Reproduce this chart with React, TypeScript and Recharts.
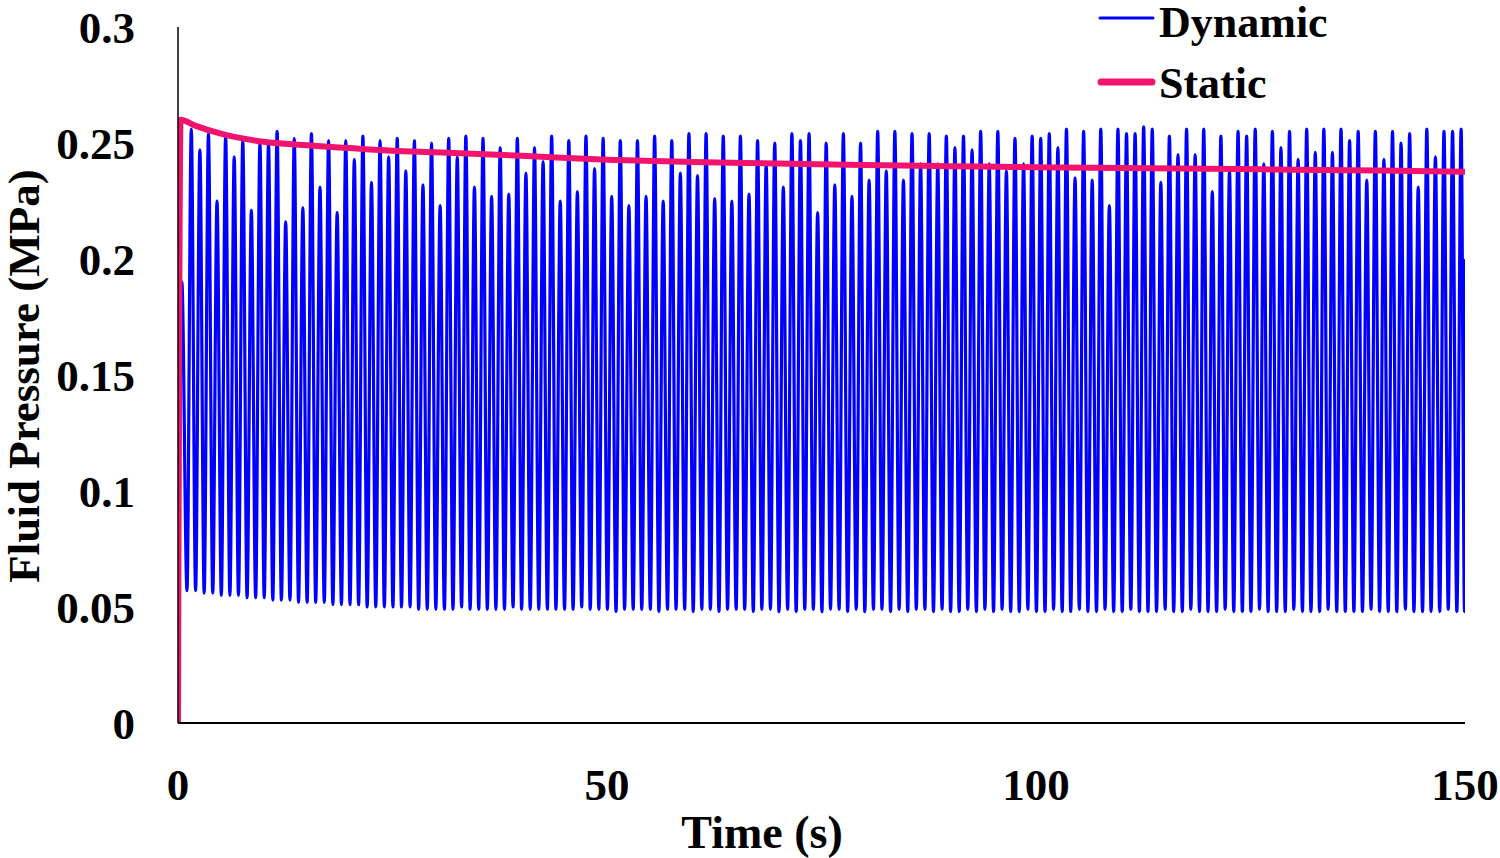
import React from "react";
import { LineChart, Line, XAxis, YAxis } from "recharts";

const fontFamily = '"Liberation Serif", "Times New Roman", serif';

// dynamic run: one peak per second, first peak at 1.55 s
const firstPeak = 1.55;
const period = 1;

const startTimes = [0, 0.45];
const startValues = [0, 0.19];

const peaks = [
  0.256, 0.247, 0.254, 0.225, 0.253, 0.244, 0.251, 0.221, 0.25, 0.25,
  0.255, 0.216, 0.252, 0.222, 0.254, 0.231, 0.251, 0.22, 0.251, 0.243,
  0.253, 0.233, 0.251, 0.244,
  0.252, 0.238, 0.251, 0.232, 0.25, 0.223, 0.252, 0.244, 0.253, 0.231,
  0.252, 0.227, 0.248, 0.228, 0.252, 0.237, 0.248, 0.242, 0.253, 0.225,
  0.251, 0.229, 0.253, 0.239, 0.252,
  0.227, 0.251, 0.223, 0.251, 0.227, 0.253, 0.225, 0.251, 0.237, 0.254,
  0.236, 0.254, 0.226, 0.253, 0.225, 0.253, 0.228, 0.251, 0.241, 0.25,
  0.231, 0.254, 0.251, 0.254, 0.22,
  0.25, 0.232, 0.254, 0.227, 0.25, 0.234, 0.255, 0.238, 0.255, 0.234,
  0.254, 0.241, 0.254, 0.241, 0.253, 0.248, 0.253, 0.247, 0.255, 0.241,
  0.255, 0.238, 0.252, 0.241, 0.253,
  0.252, 0.254, 0.248, 0.256, 0.235, 0.255, 0.234, 0.256, 0.223, 0.256,
  0.254, 0.254, 0.257, 0.256, 0.233, 0.253, 0.245, 0.256, 0.245, 0.256,
  0.229, 0.253, 0.238, 0.255, 0.253,
  0.256, 0.241, 0.255, 0.248, 0.255, 0.243, 0.256, 0.246, 0.256, 0.246,
  0.256, 0.251, 0.255, 0.234, 0.255, 0.243, 0.255, 0.25, 0.254, 0.231,
  0.256, 0.244, 0.255, 0.255, 0.256,
];

const troughs = [
  0.057, 0.057, 0.056, 0.056, 0.055, 0.055, 0.055, 0.054, 0.054, 0.054,
  0.053, 0.053, 0.053, 0.052, 0.052, 0.052, 0.052, 0.051, 0.051, 0.051,
  0.051, 0.05, 0.05, 0.05, 0.05, 0.05, 0.05, 0.049, 0.049, 0.049,
  0.049, 0.049, 0.05, 0.049, 0.049, 0.049, 0.049, 0.049, 0.05, 0.049,
  0.049, 0.049, 0.049, 0.049, 0.049, 0.049, 0.05, 0.049, 0.049, 0.049,
  0.048, 0.049, 0.049, 0.049, 0.049, 0.048, 0.049, 0.049, 0.049, 0.048,
  0.049, 0.049, 0.048, 0.049, 0.049, 0.049, 0.048, 0.049, 0.049, 0.048,
  0.049, 0.048, 0.049, 0.049, 0.048, 0.049, 0.049, 0.048, 0.049, 0.048,
  0.049, 0.049, 0.048, 0.049, 0.048, 0.049, 0.049, 0.048, 0.049, 0.048,
  0.048, 0.049, 0.048, 0.049, 0.048, 0.049, 0.048, 0.048, 0.049, 0.048,
  0.048, 0.049, 0.048, 0.048, 0.049, 0.048, 0.048, 0.049, 0.048, 0.048,
  0.049, 0.048, 0.048, 0.048, 0.049, 0.048, 0.048, 0.049, 0.048, 0.048,
  0.048, 0.049, 0.048, 0.048, 0.048, 0.049, 0.048, 0.048, 0.048, 0.049,
  0.048, 0.048, 0.048, 0.049, 0.048, 0.048, 0.048, 0.048, 0.049, 0.048,
  0.048, 0.048, 0.049, 0.048, 0.048, 0.048, 0.048, 0.049, 0.048, 0.048,
];
// last trough just after the final peak, then the trace rises to 0.2 at 150 s
const lastTroughTime = 149.95;
const endTime = 150;
const endValue = 0.2;

const staticTimes = [0, 0.3, 2, 5, 10, 15, 20, 25, 30, 40, 50, 60, 70, 80, 90, 100, 110, 120, 130, 140, 150];
const staticValues = [
  0, 0.26, 0.2575, 0.254, 0.2505, 0.249, 0.2478, 0.2467, 0.246, 0.2445, 0.2428,
  0.2418, 0.2412, 0.2405, 0.24, 0.2395, 0.2392, 0.2389, 0.2385, 0.2381, 0.2376,
];

const xTicks = [0, 50, 100, 150];
const yTicks = [0, 0.05, 0.1, 0.15, 0.2, 0.25, 0.3];

const dynamicData: { t: number; p: number }[] = startTimes.map((t, i) => ({ t, p: startValues[i] }));
peaks.forEach((p, k) => {
  dynamicData.push({ t: firstPeak - period / 2 + k * period, p: troughs[k] });
  dynamicData.push({ t: firstPeak + k * period, p });
});
dynamicData.push({ t: lastTroughTime, p: troughs[troughs.length - 1] });
dynamicData.push({ t: endTime, p: endValue });

const staticData = staticTimes.map((t, i) => ({ t, p: staticValues[i] }));

const BLUE = "#0000ff";
const PINK = "#f0146e";

const LegendBox = () => (
  <svg width={320} height={110} style={{ position: "absolute", left: 1095, top: 0 }}>
    <line x1={5} y1={18} x2={58} y2={18} stroke={BLUE} strokeWidth={3} strokeLinecap="round" />
    <text x={64} y={37} fontFamily={fontFamily} fontWeight="bold" fontSize={44} fill="#000">
      Dynamic
    </text>
    <line x1={6} y1={82} x2={57} y2={82} stroke={PINK} strokeWidth={7} strokeLinecap="round" />
    <text x={64} y={98} fontFamily={fontFamily} fontWeight="bold" fontSize={44} fill="#000">
      Static
    </text>
  </svg>
);

export default function App() {
  const tickStyle = { fontSize: 45, fontWeight: "bold", fill: "#000", fontFamily };
  return (
    <div style={{ position: "absolute", left: 0, top: 0, width: 1500, height: 858 }}>
      <LineChart width={1500} height={858} margin={{ top: 27, right: 35, left: 0, bottom: 0 }}>
        <XAxis
          type="number"
          dataKey="t"
          domain={[0, 150]}
          ticks={xTicks}
          allowDataOverflow
          height={135}
          tickLine={false}
          tickSize={0}
          tickMargin={45}
          axisLine={{ stroke: "#000", strokeWidth: 2 }}
          tick={tickStyle}
          label={{
            content: () => (
              <text x={762} y={848} textAnchor="middle" fontFamily={fontFamily} fontWeight="bold" fontSize={46} fill="#000">
                Time (s)
              </text>
            ),
          }}
        />
        <YAxis
          type="number"
          domain={[0, 0.3]}
          ticks={yTicks}
          width={178}
          tickLine={false}
          tickSize={0}
          tickMargin={43}
          axisLine={{ stroke: "#000", strokeWidth: 1.5 }}
          tick={tickStyle}
          label={{
            content: () => (
              <text
                x={0}
                y={0}
                transform="translate(39 376) rotate(-90)"
                textAnchor="middle"
                fontFamily={fontFamily}
                fontWeight="bold"
                fontSize={45}
                fill="#000"
              >
                Fluid Pressure (MPa)
              </text>
            ),
          }}
        />
        <Line
          data={dynamicData}
          dataKey="p"
          name="Dynamic"
          type="monotone"
          stroke={BLUE}
          strokeWidth={3.2}
          dot={false}
          isAnimationActive={false}
        />
        <Line
          data={staticData}
          dataKey="p"
          name="Static"
          type="monotone"
          stroke={PINK}
          strokeWidth={6}
          dot={false}
          isAnimationActive={false}
        />
      </LineChart>
      <LegendBox />
    </div>
  );
}
